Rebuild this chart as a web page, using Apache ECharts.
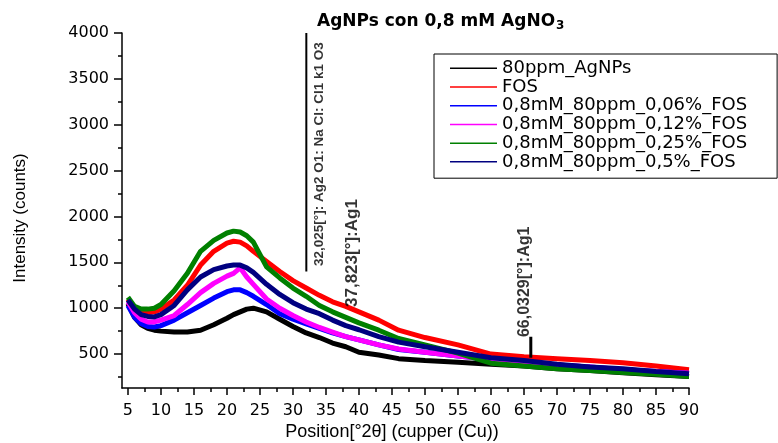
<!DOCTYPE html>
<html>
<head>
<meta charset="utf-8">
<script src="https://cdn.jsdelivr.net/npm/echarts@6/dist/echarts.min.js"></script>
<style>html,body{margin:0;padding:0;background:#fff}#c{width:778px;height:443px}</style>
</head>
<body>
<div id="c"></div>
<script>
// ---- data ----
const xs = [5, 6, 7, 8, 9, 10, 12, 14, 16, 18, 20, 21, 22, 23, 24, 26, 28, 30, 32, 34, 36, 38, 40, 43, 46, 50, 55, 60, 65, 70, 75, 80, 85, 90];
const sAgNPs   = [1050, 900, 820, 780, 760, 750, 740, 740, 760, 820, 890, 930, 960, 990, 1000, 960, 880, 800, 730, 680, 620, 580, 520, 490, 450, 430, 410, 390, 370, 340, 320, 295, 275, 255];
const sFOS     = [1100, 1000, 960, 950, 960, 990, 1090, 1250, 1470, 1620, 1710, 1730, 1720, 1680, 1620, 1510, 1400, 1300, 1220, 1140, 1070, 1020, 960, 870, 760, 680, 600, 500, 470, 450, 430, 405, 370, 330];
const s006     = [1030, 900, 830, 800, 795, 810, 870, 950, 1030, 1110, 1180, 1200, 1200, 1170, 1130, 1040, 940, 880, 830, 780, 730, 690, 655, 600, 550, 520, 480, 440, 410, 380, 360, 330, 310, 290];
const s012     = [1070, 950, 880, 850, 850, 870, 920, 1040, 1170, 1270, 1350, 1380, 1440, 1340, 1260, 1100, 1000, 920, 850, 790, 740, 690, 655, 600, 555, 520, 480, 440, 410, 380, 360, 330, 310, 290];
const s025     = [1120, 1020, 990, 990, 1000, 1040, 1190, 1380, 1620, 1740, 1820, 1840, 1830, 1790, 1720, 1450, 1330, 1220, 1130, 1030, 960, 900, 840, 760, 670, 600, 510, 400, 370, 340, 320, 300, 280, 255];
const s05      = [1090, 990, 930, 910, 905, 930, 1030, 1200, 1340, 1420, 1460, 1470, 1470, 1440, 1390, 1260, 1150, 1060, 990, 940, 870, 810, 765, 690, 630, 580, 520, 460, 430, 390, 360, 340, 310, 285];
const seriesNames = ['80ppm_AgNPs', 'FOS', '0,8mM_80ppm_0,06%_FOS', '0,8mM_80ppm_0,12%_FOS', '0,8mM_80ppm_0,25%_FOS', '0,8mM_80ppm_0,5%_FOS'];
const seriesValues = [sAgNPs, sFOS, s006, s012, s025, s05];
const seriesColors = ['#000000', '#ff0000', '#0000ff', '#ff00ff', '#008000', '#000080'];

// peak markers
const stickX = [32.025, 66.0329];
const stickTop = [4000, 690];
const stickBottom = [1400, 460];
const annoText = ['32,025[°]: Ag2 O1: Na Cl: Cl1 k1 O3', '37,823[°]:Ag1', '66,0329[°]:Ag1'];
const annoX = [33.94, 38.94, 65.15];
const annoY = [1460, 1013, 685];
const annoSize = [13.5, 17, 16];

// ticks
const xMajor = [5,10,15,20,25,30,35,40,45,50,55,60,65,70,75,80,85,90];
const xMinor = [7.5,12.5,17.5,22.5,27.5,32.5,37.5,42.5,47.5,52.5,57.5,62.5,67.5,72.5,77.5,82.5,87.5];
const yMajor = [500,1000,1500,2000,2500,3000,3500,4000];
const yMinor = [250,750,1250,1750,2250,2750,3250,3750];

const title = 'AgNPs con 0,8 mM AgNO';
const titleSub = '3';
const xTitle = 'Position[°2θ] (cupper (Cu))';
const yTitle = 'Intensity (counts)';

const chart = echarts.init(document.getElementById('c'));
const X0 = 4.1, X1 = 90, Y0 = 130, Y1 = 4000;
const tickFont = {fontFamily: 'DejaVu Sans', fontSize: 16, color: '#000', formatter: v => String(v)};

const series = seriesNames.map((n, k) => ({
  name: n, type: 'line', xAxisIndex: 0, yAxisIndex: 0,
  data: xs.map((x, i) => [x, seriesValues[k][i]]),
  symbol: 'none', showSymbol: false,
  lineStyle: {color: seriesColors[k], width: 5},
  itemStyle: {color: seriesColors[k]},
  z: 2 + k
}));
stickX.forEach((x, i) => {
  series.push({
    name: 'stick' + i, type: 'line', xAxisIndex: 0, yAxisIndex: 0,
    data: [[x, stickTop[i]], [x, stickBottom[i]]],
    symbol: 'none', lineStyle: {color: '#000', width: i === 0 ? 2 : 3}, z: 10
  });
});
series.push({
  name: 'annotations', type: 'scatter', xAxisIndex: 0, yAxisIndex: 0,
  symbolSize: 0, z: 11,
  data: annoText.map((t, i) => ({
    value: [annoX[i], annoY[i]],
    label: {
      show: true, formatter: t, rotate: 90, position: 'inside',
      align: 'left', verticalAlign: 'middle',
      fontFamily: '"Liberation Sans", Arial, sans-serif',
      fontWeight: 'bold', fontSize: annoSize[i], color: '#000'
    }
  }))
});

chart.setOption({
  animation: false,
  backgroundColor: '#fff',
  grid: {left: 122, right: 89, top: 33, bottom: 55},
  title: {
    text: '{a|' + title + '}{b|' + titleSub + '}',
    left: 312, top: 6,
    textStyle: {
      rich: {
        a: {fontFamily: 'DejaVu Sans', fontWeight: 'bold', fontSize: 17, color: '#000'},
        b: {fontFamily: 'DejaVu Sans', fontWeight: 'bold', fontSize: 12, color: '#000', padding: [9, 0, 0, 1]}
      }
    }
  },
  legend: {
    data: seriesNames, orient: 'vertical', left: 434, top: 54,
    padding: [5, 30, 7, 16], itemGap: 0, itemWidth: 47, itemHeight: 1.5,
    icon: 'rect', borderColor: '#000', borderWidth: 1,
    textStyle: {fontFamily: 'DejaVu Sans', fontSize: 18, lineHeight: 18.7, color: '#000'}
  },
  xAxis: [
    {type: 'value', min: X0, max: X1, position: 'bottom',
     axisLine: {show: true, lineStyle: {color: '#000', width: 1.5}},
     axisTick: {show: true, customValues: xMajor, length: 7, lineStyle: {color: '#000', width: 1.5}},
     axisLabel: {customValues: xMajor, margin: 15, ...tickFont},
     splitLine: {show: false}},
    {type: 'value', min: X0, max: X1, position: 'bottom',
     axisLine: {show: false},
     axisTick: {show: true, customValues: xMinor, length: 4, lineStyle: {color: '#000', width: 1.5}},
     axisLabel: {show: false}, splitLine: {show: false}}
  ],
  yAxis: [
    {type: 'value', min: Y0, max: Y1, position: 'left',
     axisLine: {show: true, lineStyle: {color: '#000', width: 1.5}},
     axisTick: {show: true, customValues: yMajor, length: 8, lineStyle: {color: '#000', width: 1.5}},
     axisLabel: {customValues: yMajor, margin: 13, ...tickFont},
     splitLine: {show: false}},
    {type: 'value', min: Y0, max: Y1, position: 'left',
     axisLine: {show: false},
     axisTick: {show: true, customValues: yMinor, length: 4, lineStyle: {color: '#000', width: 1.5}},
     axisLabel: {show: false}, splitLine: {show: false}}
  ],
  graphic: [
    {type: 'text', x: 20, y: 218, rotation: Math.PI / 2,
     style: {text: yTitle, align: 'center', verticalAlign: 'middle', fontFamily: 'Liberation Sans', fontSize: 17, fill: '#000'}},
    {type: 'text', x: 392, y: 432,
     style: {text: xTitle, align: 'center', verticalAlign: 'middle', fontFamily: 'Liberation Sans', fontSize: 18, fill: '#000'}}
  ],
  series: series
});
</script>
</body>
</html>
